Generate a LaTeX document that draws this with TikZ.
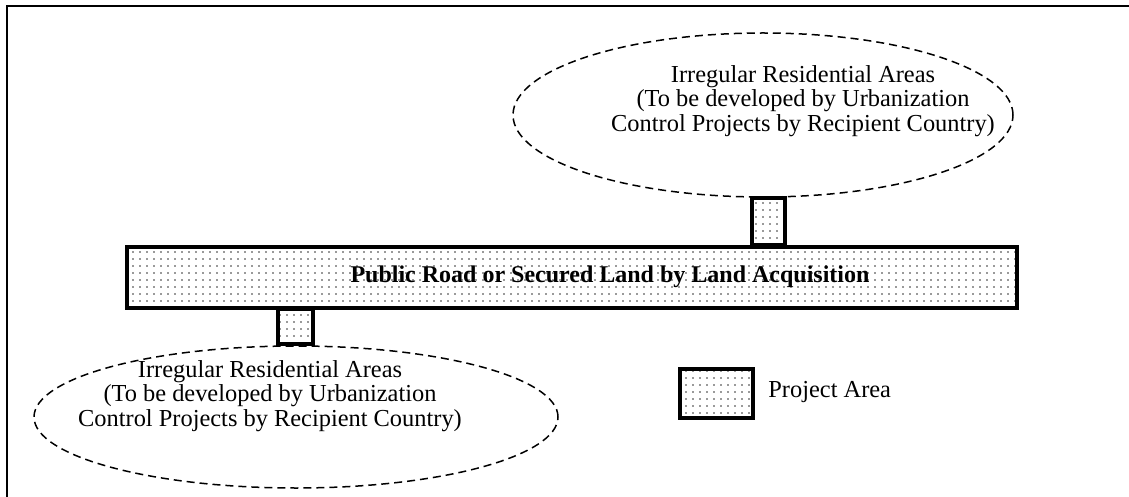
\documentclass[tikz,border=0pt]{standalone}
\usepackage{fontspec}
\setmainfont{Liberation Serif}
\usetikzlibrary{shapes.geometric,patterns.meta}

\begin{document}
\begin{tikzpicture}[x=0.5pt, y=-0.5pt,
  area/.style={ellipse, draw, line width=0.75pt, dash pattern=on 4pt off 2.5pt, inner sep=0pt},
  plot/.style={rectangle, draw, line width=2pt, pattern={Dots[distance=3.5pt, radius=0.45pt]}, pattern color=black!80, inner sep=0pt},
  label/.style={font=\fontsize{12.2}{12.2}\selectfont, align=center, inner sep=0pt}]
  \useasboundingbox (0,0) rectangle (1129,497);
  % frame
  \draw[line width=1pt] (1129,6)--(7,6)--(7,497);
  % residential areas
  \node[area, minimum width=250pt, minimum height=82pt] (upperarea) at (763,115) {};
  \node[area, minimum width=262pt, minimum height=71pt] (lowerarea) at (296,417) {};
  \node[label] (uppertext) at (803,101) {Irregular Residential Areas\\(To be developed by Urbanization\\Control Projects by Recipient Country)};
  \node[label] (lowertext) at (270,396) {Irregular Residential Areas\\(To be developed by Urbanization\\Control Projects by Recipient Country)};
  % project plots
  \node[plot, minimum width=16.5pt, minimum height=23.5pt] (upperplot) at (768.5,221.5) {};
  \node[plot, minimum width=17.5pt, minimum height=17.5pt] (lowerplot) at (295.5,326.5) {};
  % road
  \node[plot, minimum width=445pt, minimum height=30.5pt] (road) at (572,277.5) {};
  \node[label, font=\fontsize{12}{12}\selectfont\bfseries] (roadtext) at (610,277) {Public Road or Secured Land by Land Acquisition};
  % legend
  \node[plot, minimum width=36.5pt, minimum height=24.5pt] (legend) at (716.5,393.5) {};
  \node[label, anchor=west] (legendtext) at (768,392) {Project Area};
\end{tikzpicture}
\end{document}
